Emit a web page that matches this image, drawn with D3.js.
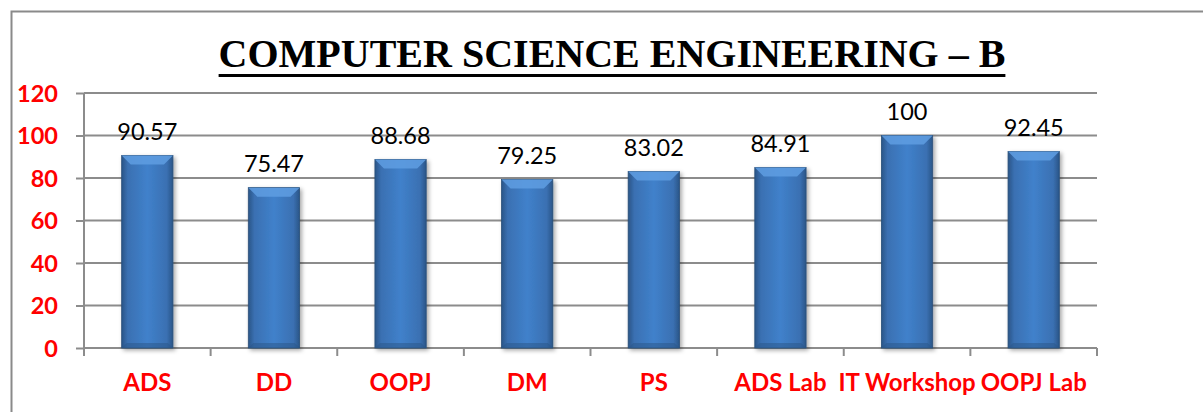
<!DOCTYPE html>
<html><head><meta charset="utf-8">
<script src="https://cdn.jsdelivr.net/npm/d3@7"></script>
<style>html,body{margin:0;padding:0;background:#fff;overflow:hidden}</style>
</head><body>
<svg id="c" width="1203" height="412"></svg>
<script>
const categories = ["ADS","DD","OOPJ","DM","PS","ADS Lab","IT Workshop","OOPJ Lab"];
const values = [90.57,75.47,88.68,79.25,83.02,84.91,100,92.45];
const valueLabels = ["90.57","75.47","88.68","79.25","83.02","84.91","100","92.45"];
const yTicks = [0,20,40,60,80,100,120];
const title = "COMPUTER SCIENCE ENGINEERING \u2013 B";

const svg = d3.select("#c");
const L = 84, R = 1097, T = 93, B = 348;

const defs = svg.append("defs");
const g1 = defs.append("linearGradient").attr("id","barG").attr("x1","0").attr("x2","1").attr("y1","0").attr("y2","0");
g1.append("stop").attr("offset","0").attr("stop-color","#2a5587");
g1.append("stop").attr("offset","0.12").attr("stop-color","#3a70b2");
g1.append("stop").attr("offset","0.5").attr("stop-color","#4081cb");
g1.append("stop").attr("offset","0.88").attr("stop-color","#3a70b2");
g1.append("stop").attr("offset","1").attr("stop-color","#2a5587");
const f = defs.append("filter").attr("id","sh").attr("x","-20%").attr("y","-20%").attr("width","140%").attr("height","140%");
f.append("feDropShadow").attr("dx",2).attr("dy",2).attr("stdDeviation",2).attr("flood-color","#000").attr("flood-opacity",0.35);

// outer border
svg.append("rect").attr("x",11.5).attr("y",11.5).attr("width",1300).attr("height",500)
  .attr("fill","none").attr("stroke","#8a8a8a").attr("stroke-width",2);

const x = d3.scaleBand().domain(categories).range([L,R]).padding(0);
const y = d3.scaleLinear().domain([0,120]).range([B,T]);

// gridlines
svg.append("g").selectAll("line").data(yTicks.filter(d=>d>0)).join("line")
  .attr("x1",L).attr("x2",R).attr("y1",d=>y(d)).attr("y2",d=>y(d))
  .attr("stroke","#8c8c8c").attr("stroke-width",2);

// y axis
const ya = svg.append("g").attr("transform",`translate(${L},0)`)
  .call(d3.axisLeft(y).tickValues(yTicks).tickSize(8).tickPadding(18).tickFormat(d3.format("d")));
ya.select(".domain").attr("stroke","#8c8c8c").attr("stroke-width",2).attr("d",`M0,${T}V${B}`);
ya.selectAll(".tick line").attr("stroke","#8c8c8c").attr("stroke-width",2);
ya.selectAll(".tick text").attr("fill","#ff0000").attr("font-family","Lato, 'Open Sans', sans-serif")
  .attr("font-weight","bold").attr("font-size",23.5).attr("dy","0.36em");

// x axis
const xa = svg.append("g").attr("transform",`translate(0,${B})`)
  .call(d3.axisBottom(x).tickSize(0).tickPadding(26));
xa.select(".domain").attr("stroke","#8c8c8c").attr("stroke-width",2).attr("d",`M${L},0H${R}`);
xa.selectAll(".tick text").attr("fill","#ff0000").attr("font-family","Lato, 'Open Sans', sans-serif")
  .attr("font-weight","bold").attr("font-size",24).attr("dy","0.71em");
// category boundary ticks
const bounds = categories.map(c=>x(c)).concat([R]);
svg.append("g").selectAll("line").data(bounds).join("line")
  .attr("x1",d=>d).attr("x2",d=>d).attr("y1",B).attr("y2",B+8)
  .attr("stroke","#8c8c8c").attr("stroke-width",2);

// bars
const bw = x.bandwidth()*0.405;
const bars = svg.append("g").selectAll("g").data(categories).join("g");
bars.append("rect")
  .attr("x",d=>x(d)+x.bandwidth()/2-bw/2).attr("width",bw)
  .attr("y",(d,i)=>y(values[i])).attr("height",(d,i)=>B-y(values[i]))
  .attr("fill","url(#barG)").attr("stroke","#2b5079").attr("stroke-width",0.8).attr("filter","url(#sh)");
// top bevel
const bev = 9;
bars.append("path").attr("d",(d,i)=>{
  const x0 = x(d)+x.bandwidth()/2-bw/2, x1 = x0+bw, y0 = y(values[i]);
  return `M${x0},${y0}L${x1},${y0}L${x1-bev},${y0+bev}L${x0+bev},${y0+bev}Z`;
}).attr("fill","#5f9de2").attr("opacity",0.85);
// bottom bevel
bars.append("path").attr("d",(d)=>{
  const x0 = x(d)+x.bandwidth()/2-bw/2, x1 = x0+bw, y0 = B;
  return `M${x0},${y0}L${x1},${y0}L${x1-5},${y0-5}L${x0+5},${y0-5}Z`;
}).attr("fill","#2a5587").attr("opacity",0.5);

// value labels
svg.append("g").selectAll("text").data(categories).join("text")
  .attr("x",d=>x(d)+x.bandwidth()/2).attr("y",(d,i)=>y(values[i])-16)
  .attr("text-anchor","middle").attr("font-family","Lato, 'Open Sans', sans-serif")
  .attr("font-size",23.5).attr("fill","#000").text((d,i)=>valueLabels[i]);

// title
const tt = svg.append("text").attr("x",612).attr("y",67).attr("text-anchor","middle")
  .attr("font-family","'Liberation Serif', 'Times New Roman', serif").attr("font-weight","bold")
  .attr("font-size",40).attr("fill","#000").text(title);
const bb = tt.node().getBBox();
svg.append("rect").attr("x",bb.x).attr("y",74).attr("width",bb.width).attr("height",3).attr("fill","#000");
</script>
</body></html>
